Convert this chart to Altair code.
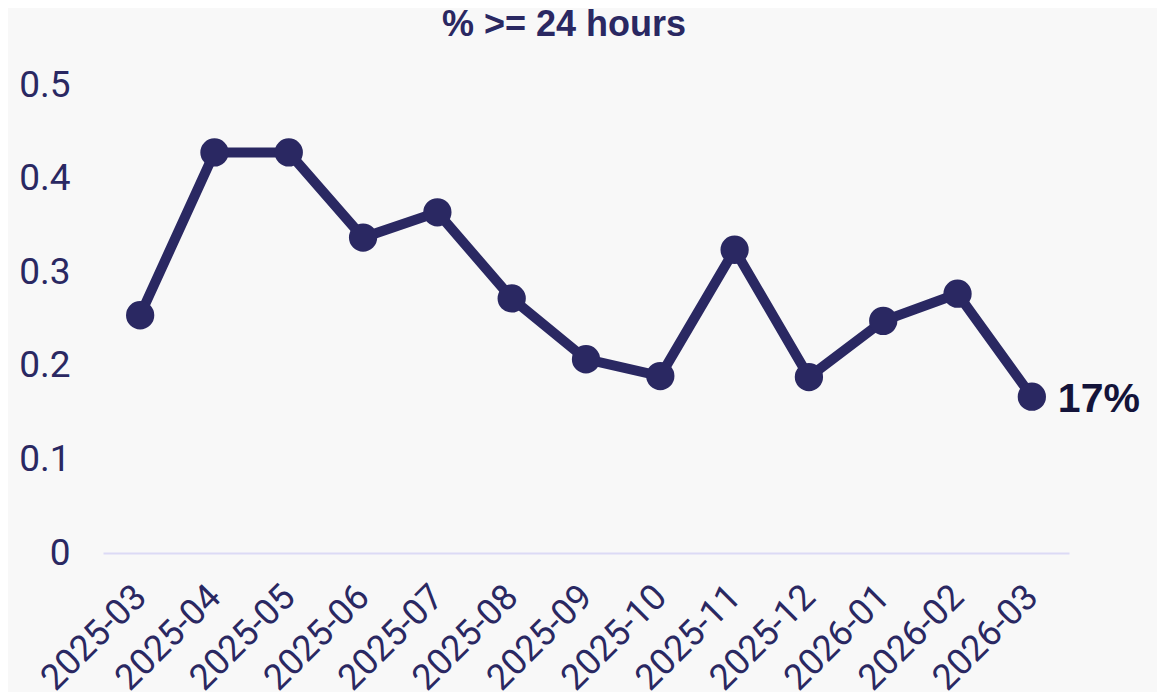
import altair as alt
import pandas as pd

months = ["2025-03", "2025-04", "2025-05", "2025-06", "2025-07", "2025-08", "2025-09",
          "2025-10", "2025-11", "2025-12", "2026-01", "2026-02", "2026-03"]
values = [0.254, 0.428, 0.428, 0.337, 0.364, 0.272, 0.207,
          0.189, 0.324, 0.188, 0.248, 0.277, 0.167]

df = pd.DataFrame({"month": months, "value": values})
df["label"] = ""
df.loc[df.index[-1], "label"] = "17%"

navy = "#2a2862"

x = alt.X("month:O", sort=months, title=None,
          scale=alt.Scale(type="point", padding=0.5),
          axis=alt.Axis(labelAngle=-45, labelAlign="right", labelBaseline="middle",
                        labelFontSize=36, labelFont="Roboto", labelColor=navy,
                        labelPadding=38, ticks=False, domainColor="#dcdaf5",
                        domainWidth=2, grid=False))
y = alt.Y("value:Q", title=None,
          scale=alt.Scale(domain=[0, 0.5], nice=False),
          axis=alt.Axis(values=[0, 0.1, 0.2, 0.3, 0.4, 0.5], format="~g",
                        labelFontSize=37, labelFont="Roboto", labelColor=navy,
                        labelPadding=33, ticks=False, domain=False, grid=False))

base = alt.Chart(df).encode(x=x, y=y)
line = base.mark_line(color=navy, strokeWidth=10)
pts = base.mark_point(filled=True, opacity=1, color=navy, size=800)
txt = base.mark_text(align="left", dx=26, dy=3, fontSize=41, fontWeight="bold",
                     font="Liberation Sans", color="#14143a").encode(text="label:N")

chart = (line + pts + txt).properties(
    width=966, height=468,
    background="#f8f8f8",
    padding={"left": 95, "top": 77, "right": 88, "bottom": 139},
    autosize=alt.AutoSizeParams(type="none"),
    title=alt.TitleParams("% >= 24 hours", font="Liberation Sans", fontSize=36,
                          fontWeight="bold", color=navy, anchor="middle", dx=-22,
                          offset=22),
).configure_view(stroke=None)

chart.save("out.html", embed_options={"renderer": "svg", "actions": False})
